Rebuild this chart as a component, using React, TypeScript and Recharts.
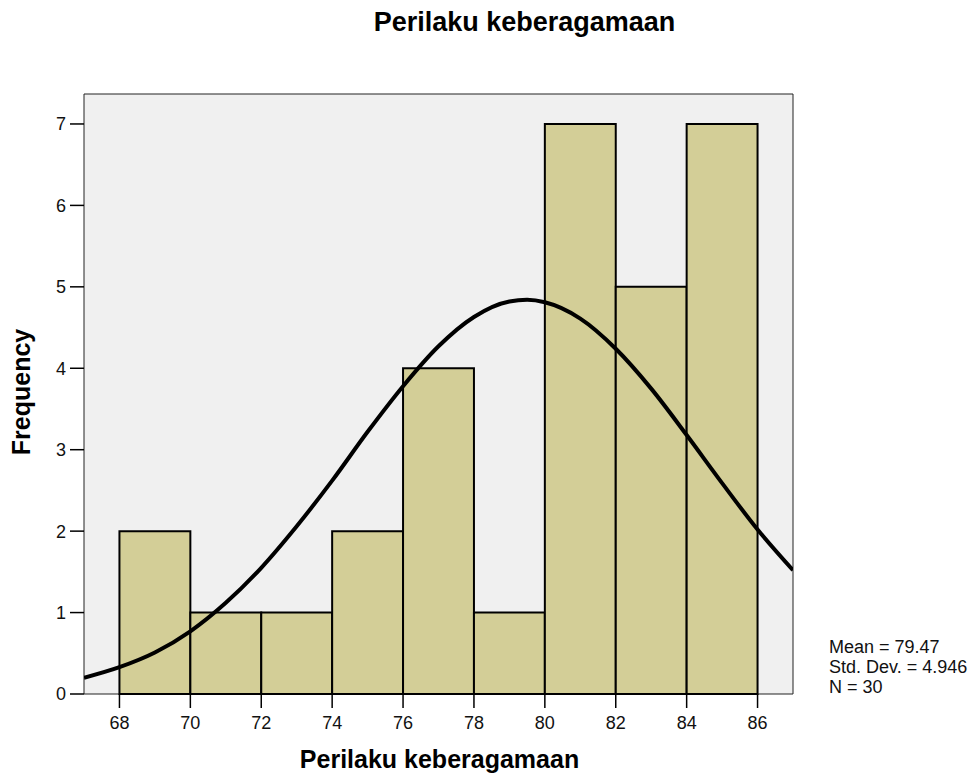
import { ComposedChart, XAxis, YAxis, Line, ReferenceArea } from 'recharts'

// histogram bins (left edge, right edge, frequency)
const binStarts = [68, 70, 72, 74, 76, 78, 80, 82, 84]
const binEnds = [70, 72, 74, 76, 78, 80, 82, 84, 86]
const counts = [2, 1, 1, 2, 4, 1, 7, 5, 7]

// normal curve
const curveX = [67, 68, 69, 70, 71, 72, 73, 74, 75, 76, 77, 78, 79, 79.5, 80, 81, 82, 83, 84, 85, 86, 87]
const curveY = [0.2, 0.33, 0.51, 0.77, 1.12, 1.55, 2.06, 2.62, 3.22, 3.78, 4.27, 4.63, 4.82, 4.84, 4.81, 4.61, 4.24, 3.75, 3.18, 2.59, 2.02, 1.52]

const xTicks = [68, 70, 72, 74, 76, 78, 80, 82, 84, 86]
const yTicks = [0, 1, 2, 3, 4, 5, 6, 7]

const title = 'Perilaku keberagamaan'
const xLabel = 'Perilaku keberagamaan'
const yLabel = 'Frequency'
const stats = ['Mean = 79.47', 'Std. Dev. = 4.946', 'N = 30']

const font = '"Liberation Sans", Arial, sans-serif'

export default function App() {
  const curve = curveX.map((x, i) => ({ x, y: curveY[i] }))
  const tick = { fill: '#111', fontSize: 18, fontFamily: font }

  return (
    <div style={{ position: 'absolute', left: 0, top: 0, width: 979, height: 775, background: '#fff' }}>
      <ComposedChart width={979} height={775} margin={{ top: 94, right: 186, bottom: 0, left: 0 }}>
        <XAxis
          type="number"
          dataKey="x"
          domain={[67, 87]}
          ticks={xTicks}
          allowDataOverflow
          height={81}
          tickSize={14}
          tickMargin={8}
          axisLine={false}
          tickLine={{ stroke: '#000', strokeWidth: 1.5 }}
          tick={tick}
        />
        <YAxis
          type="number"
          domain={[0, 7.368]}
          ticks={yTicks}
          allowDataOverflow
          width={84}
          tickSize={14}
          tickMargin={4}
          axisLine={false}
          tickLine={{ stroke: '#000', strokeWidth: 1.5 }}
          tick={tick}
        />
        <ReferenceArea x1={67} x2={87} y1={0} y2={7.368} fill="#f0f0f0" fillOpacity={1} stroke="#222" strokeWidth={1} />
        {binStarts.map((s, i) => (
          <ReferenceArea
            key={`bin-${i}`}
            x1={s}
            x2={binEnds[i]}
            y1={0}
            y2={counts[i]}
            fill="#d3ce97"
            fillOpacity={1}
            stroke="#000"
            strokeWidth={2}
          />
        ))}
        <Line
          data={curve}
          dataKey="y"
          type="monotone"
          stroke="#000"
          strokeWidth={4}
          dot={false}
          isAnimationActive={false}
        />
      </ComposedChart>
      <svg width={979} height={775} style={{ position: 'absolute', left: 0, top: 0, pointerEvents: 'none' }}>
        <text x={524.5} y={31} textAnchor="middle" fontFamily={font} fontWeight="bold" fontSize={27} fill="#000">
          {title}
        </text>
        <text x={439.5} y={768} textAnchor="middle" fontFamily={font} fontWeight="bold" fontSize={25} fill="#000">
          {xLabel}
        </text>
        <text
          x={30}
          y={392}
          textAnchor="middle"
          transform="rotate(-90 30 392)"
          fontFamily={font}
          fontWeight="bold"
          fontSize={25}
          fill="#000"
        >
          {yLabel}
        </text>
        {stats.map((s, i) => (
          <text key={s} x={829} y={653 + i * 20} fontFamily={font} fontSize={18} fill="#111">
            {s}
          </text>
        ))}
      </svg>
    </div>
  )
}
